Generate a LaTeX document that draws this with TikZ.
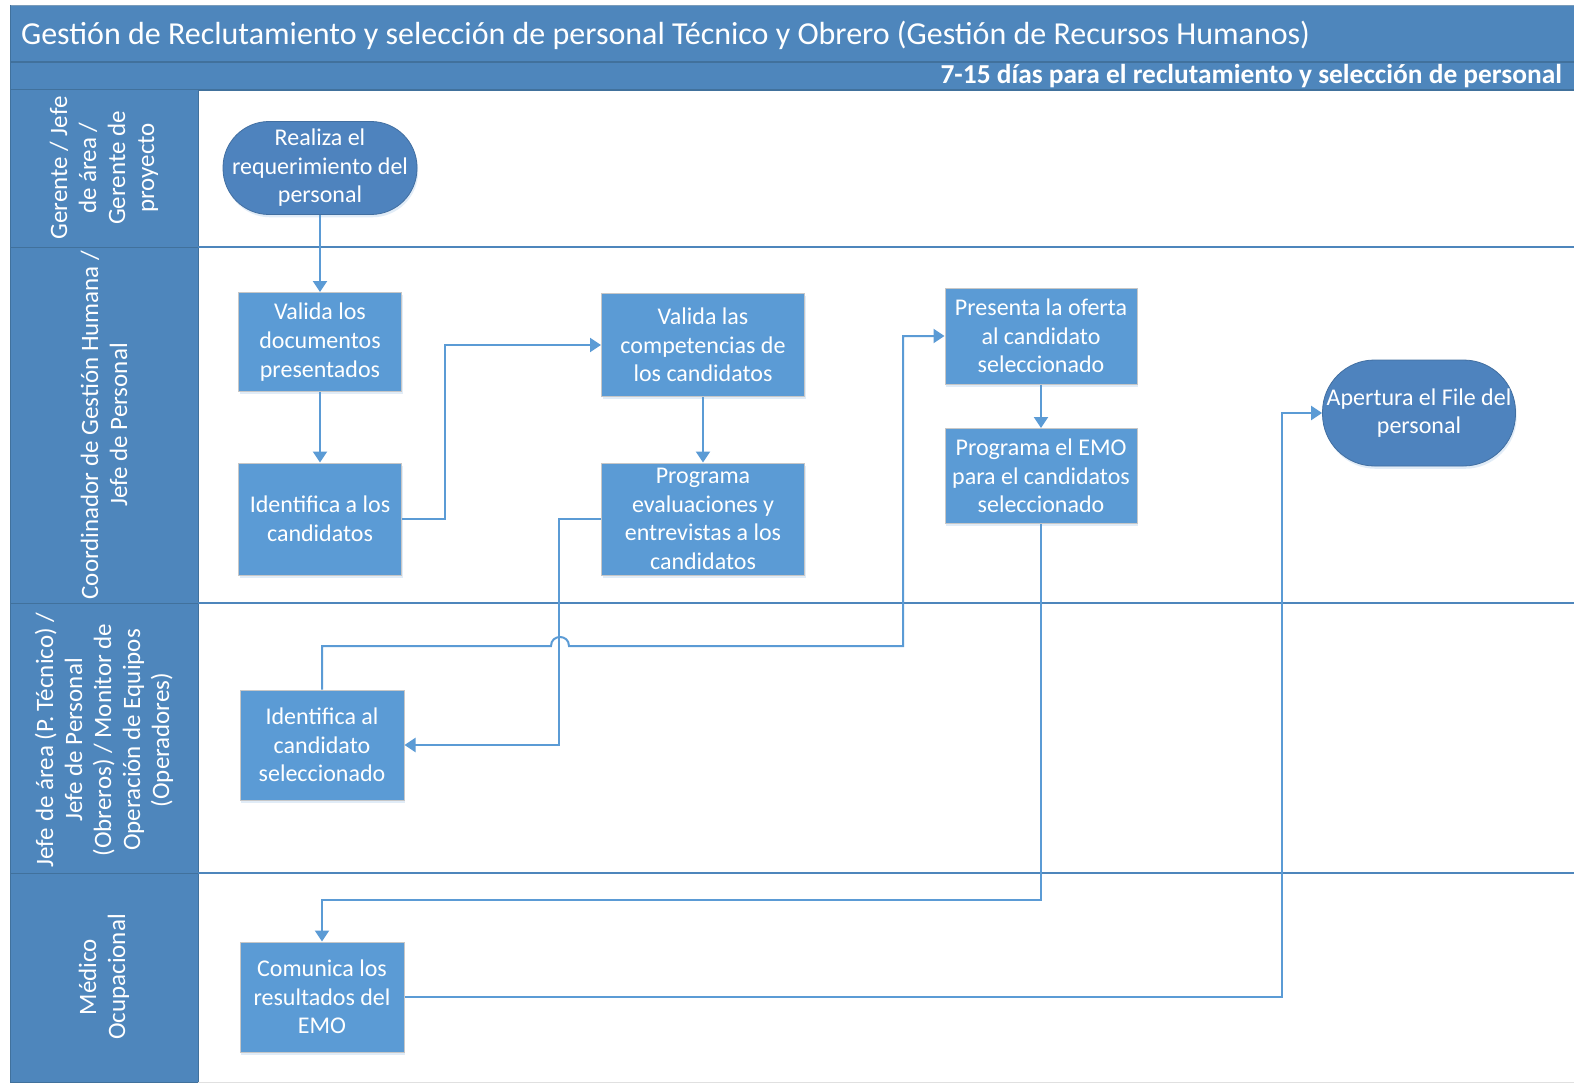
\documentclass[tikz,border=0pt]{standalone}
\usepackage{fontspec}
\setmainfont{Carlito}
\usetikzlibrary{positioning,arrows.meta,shadows}

\definecolor{headblue}{HTML}{4E86BC}
\definecolor{laneline}{HTML}{41719C}
\definecolor{boxblue}{HTML}{5B9BD5}
\definecolor{termblue}{HTML}{4E83BE}

\begin{document}
\begin{tikzpicture}[
    x=0.5pt, y=-0.5pt,
    every node/.style={font=\fontsize{12}{14.3}\selectfont, text=white},
    process/.style={
        rectangle,
        fill=boxblue,
        draw=black!22,
        line width=0.5pt,
        drop shadow={shadow xshift=0.6pt, shadow yshift=-1.4pt, opacity=0.18, fill=boxblue},
        inner sep=0pt,
        align=center
    },
    terminal/.style={
        rectangle,
        rounded corners=#1,
        fill=termblue,
        draw=termblue!85!black,
        line width=0.4pt,
        drop shadow={shadow xshift=0.6pt, shadow yshift=-1.4pt, opacity=0.18, fill=boxblue},
        inner sep=0pt,
        align=center
    },
    lanelabel/.style={
        rotate=90,
        align=center,
        font=\fontsize{12.5}{14.5}\selectfont
    },
    arrow/.style={-{Triangle[width=7pt,length=5.5pt]}, line width=1pt, draw=boxblue}
]

% Page, header and lanes
\useasboundingbox (0,0) rectangle (1574,1086);
\fill[white] (0,0) rectangle (1574,1086);
\fill[headblue] (10,5) rectangle (1574,90);
\draw[laneline, line width=0.6pt] (10,62) -- (1574,62);
\draw[laneline!70, line width=0.4pt] (10,5) -- (1574,5);
\draw[laneline, line width=0.6pt] (10,90) -- (1574,90);
\fill[headblue] (10,90) rectangle (198,1082);
\draw[laneline, line width=0.5pt] (10,5) -- (10,1082) -- (198,1082);
\draw[laneline, line width=0.5pt] (198,90) -- (198,1082);
\foreach \y in {247,603,873}{
    \draw[laneline, line width=0.5pt] (10,\y) -- (198,\y);
    \draw[headblue, line width=0.6pt] (198,\y) -- (1574,\y);
}
\draw[black!12, line width=0.5pt] (198,1082) -- (1574,1082);

\node (title) [anchor=west, font=\fontsize{16}{18}\selectfont] at (14,35)
{Gestión de Reclutamiento y selección de personal Técnico y Obrero (Gestión de Recursos Humanos)};
\node (plazo) [anchor=east, font=\fontsize{13.7}{16}\selectfont\bfseries] at (1569,76)
{7-15 días para el reclutamiento y selección de personal};

\node (lanegerente) [lanelabel] at (104,168) {Gerente / Jefe\\de área /\\Gerente de\\proyecto};
\node (lanecoord) [lanelabel] at (104,425) {Coordinador de Gestión Humana /\\Jefe de Personal};
\node (lanejefe) [lanelabel] at (104,740)
{Jefe de área (P. Técnico) /\\Jefe de Personal\\(Obreros) / Monitor de\\Operación de Equipos\\(Operadores)};
\node (lanemedico) [lanelabel] at (104,977) {Médico\\Ocupacional};

% Nodes
\node (req) [terminal=23pt, minimum width=97pt, minimum height=46.5pt] at (320,168)
{Realiza el\\requerimiento del\\personal};

\node (valdoc) [process, minimum width=81.5pt, minimum height=49.5pt,
    node distance=87pt, below of=req]
{Valida los\\documentos\\presentados};

\node (idcand) [process, minimum width=81.5pt, minimum height=56pt,
    node distance=88.5pt, below of=valdoc]
{Identifica a los\\candidatos};

\node (valcomp) [process, minimum width=101.5pt, minimum height=51.5pt] at (703,345)
{Valida las\\competencias de\\los candidatos};

\node (progeval) [process, minimum width=101.5pt, minimum height=56pt,
    node distance=87pt, below of=valcomp]
{Programa\\evaluaciones y\\entrevistas a los\\candidatos};

\node (oferta) [process, minimum width=96pt, minimum height=48pt] at (1041,336)
{Presenta la oferta\\al candidato\\seleccionado};

\node (progemo) [process, minimum width=96pt, minimum height=47.5pt,
    node distance=70pt, below of=oferta]
{Programa el EMO\\para el candidatos\\seleccionado};

\node (apertura) [terminal=26pt, minimum width=96.5pt, minimum height=53pt] at (1419,413)
{Apertura el File del\\personal};

\node (idsel) [process, minimum width=82pt, minimum height=55pt] at (322,745)
{Identifica al\\candidato\\seleccionado};

\node (comunica) [process, minimum width=82pt, minimum height=55pt,
    node distance=126pt, below of=idsel]
{Comunica los\\resultados del\\EMO};

% Arrows
\coordinate (salto) at (560,646);
\coordinate (subeoferta) at (903,646);

\draw [arrow] (req) -- (valdoc);
\draw [arrow] (valdoc) -- (idcand);
\draw [arrow] (idcand.east) -- ++(43,0) |- (valcomp.west);
\draw [arrow] (valcomp) -- (progeval);
\draw [arrow] (progeval.west) -- ++(-42,0) |- (idsel.east);
\draw [arrow] (idsel.north) |- ([xshift=-4.5pt]salto)
    .. controls ([xshift=-4.5pt,yshift=6pt]salto) and ([xshift=4.5pt,yshift=6pt]salto) .. ([xshift=4.5pt]salto)
    -- (subeoferta) |- (oferta.west);
\draw [arrow] (oferta) -- (progemo);
\draw [arrow] (progemo.south) -- ++(0,376) -| (comunica.north);
\draw [arrow] (comunica.east) -- ++(877,0) |- (apertura.west);

\end{tikzpicture}
\end{document}
